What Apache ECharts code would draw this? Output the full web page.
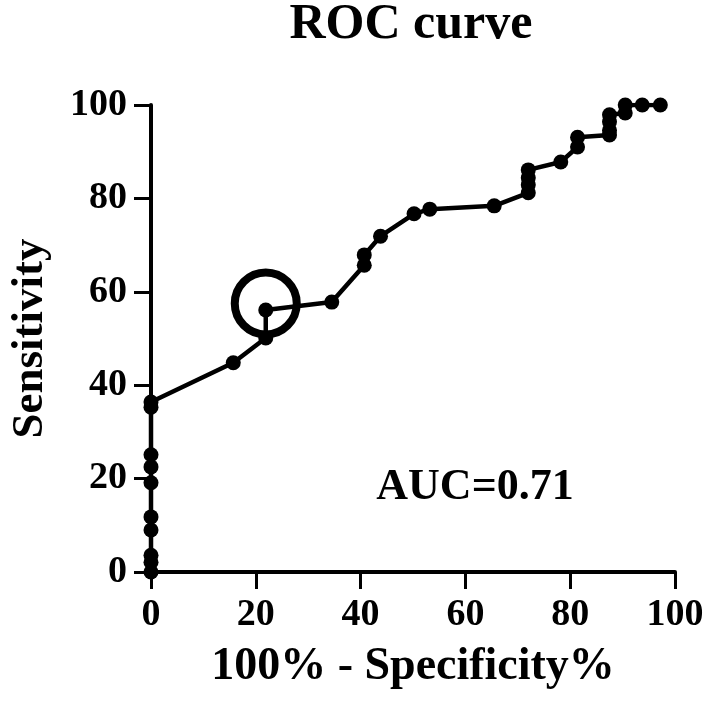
<!DOCTYPE html>
<html>
<head>
<meta charset="utf-8">
<script src="https://cdn.jsdelivr.net/npm/echarts@6/dist/echarts.min.js"></script>
<style>html,body{margin:0;padding:0;background:#fff;}#c{width:708px;height:714px;}</style>
</head>
<body>
<div id="c"></div>
<script>
// ROC curve points (x = 100% - Specificity%, y = Sensitivity)
var fprValues = [0,0,0,0,0,0,0,0,0,0,15.7,21.9,21.9,34.5,40.7,40.7,43.8,50.2,53.2,65.5,72.0,72.0,72.0,72.0,78.2,81.4,81.4,87.5,87.5,87.5,87.5,90.5,90.5,93.75,97.2];
var sensValues = [0,2.1,3.6,9.0,11.8,19.1,22.5,25.1,35.3,36.4,44.8,50.1,56.1,57.8,65.7,67.9,71.9,76.7,77.7,78.4,81.2,82.9,84.4,86.1,87.8,91.0,93.1,93.6,94.6,96.4,97.9,98.3,100,100,100];
// Highlighted cut-off point (circled)
var cutoffPoint = [21.9, 57.5];
var xTicks = [0,20,40,60,80,100];
var yTicks = [0,20,40,60,80,100];
var titleText = 'ROC curve';
var xName = '100% - Specificity%';
var yName = 'Sensitivity';
var aucText = 'AUC=0.71';

var FONT = 'Liberation Serif';
var pts = fprValues.map(function(v,i){return [v, sensValues[i]];});
var chart = echarts.init(document.getElementById('c'), null, {renderer:'canvas'});
var option = {
  backgroundColor: '#fff',
  animation: false,
  grid: {left:147, right:33, top:105, bottom:142, containLabel:false},
  xAxis: {
    type:'value', min:0, max:100, interval:20,
    name: xName, nameLocation:'middle', nameGap:72,
    nameTextStyle:{fontFamily:FONT, fontWeight:'bold', fontSize:46, color:'#000'},
    axisLine:{show:true, lineStyle:{color:'#000', width:4}},
    axisTick:{show:true, inside:false, length:17, lineStyle:{color:'#000', width:3}},
    axisLabel:{margin:24, fontFamily:FONT, fontWeight:'bold', fontSize:38, color:'#000'},
    splitLine:{show:false}
  },
  yAxis: {
    type:'value', min:0, max:100, interval:20,
    name: yName, nameLocation:'middle', nameGap:98, nameRotate:90,
    nameTextStyle:{fontFamily:FONT, fontWeight:'bold', fontSize:45, color:'#000'},
    axisLine:{show:true, lineStyle:{color:'#000', width:4}},
    axisTick:{show:true, inside:false, length:17, lineStyle:{color:'#000', width:3}},
    axisLabel:{margin:24, fontFamily:FONT, fontWeight:'bold', fontSize:38, color:'#000'},
    splitLine:{show:false}
  },
  series: [
    {
      type:'line', data: pts, symbol:'circle', symbolSize:15,
      lineStyle:{color:'#000', width:4.5}, itemStyle:{color:'#000', opacity:1}, z:3
    },
    {
      type:'scatter', data:[cutoffPoint], symbol:'circle', symbolSize:62,
      itemStyle:{color:'rgba(0,0,0,0)', borderColor:'#000', borderWidth:8, opacity:1}, z:4
    }
  ],
  graphic: [
    {type:'text', style:{text:titleText, x:411, y:0, textAlign:'center', textVerticalAlign:'top', font:'bold 50px "'+FONT+'"', fill:'#000'}},
    {type:'text', style:{text:aucText, x:475, y:488, textAlign:'center', textVerticalAlign:'middle', font:'bold 44px "'+FONT+'"', fill:'#000'}}
  ]
};
chart.setOption(option);
</script>
</body>
</html>
